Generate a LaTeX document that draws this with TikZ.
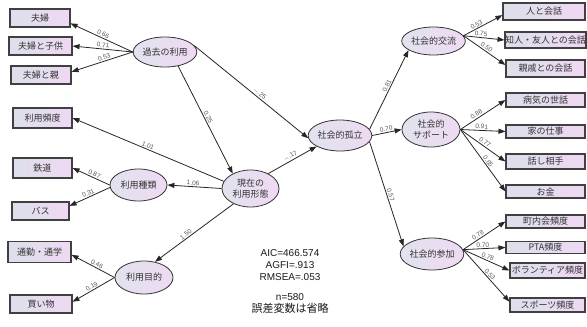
\documentclass[tikz,border=0pt]{standalone}
\usepackage{fontspec}
\setmainfont{Liberation Sans}
\newfontfamily\jp{Noto Sans CJK JP}
\usetikzlibrary{shapes.geometric,arrows.meta}
\definecolor{boxL}{HTML}{DCE0EA}
\definecolor{boxR}{HTML}{EFD8F3}
\definecolor{elL}{HTML}{E2E2EE}
\definecolor{elR}{HTML}{EEDAF2}
\begin{document}
\begin{tikzpicture}[x=1pt,y=-1pt,
  obs/.style={draw=black!75, line width=1.1pt, left color=boxL, right color=boxR,
    inner sep=0pt, font=\jp\fontsize{9}{10}\selectfont, text=black!80},
  lat/.style={ellipse, draw=black!80, line width=0.8pt, left color=elL, right color=elR,
    inner sep=0pt, align=center, font=\jp\fontsize{9}{10.5}\selectfont, text=black!80},
  arr/.style={draw=black!85, line width=0.8pt, -{Triangle[length=7pt,width=5pt]}},
  coef/.style={font=\fontsize{6.5}{7}\selectfont, text=black!65, sloped, above, inner sep=1pt}
]
\useasboundingbox[fill=white] (0,0) rectangle (587,327);

% left observed
\node[obs, minimum width=60pt, minimum height=18pt] (b1) at (40,18) {夫婦};
\node[obs, minimum width=63pt, minimum height=18pt] (b2) at (40.5,46) {夫婦と子供};
\node[obs, minimum width=60pt, minimum height=18pt] (b3) at (41,75) {夫婦と親};
\node[obs, minimum width=59pt, minimum height=20pt] (hindo) at (42.5,118) {利用頻度};
\node[obs, minimum width=59pt, minimum height=20pt] (tetsu) at (42.5,168) {鉄道};
\node[obs, minimum width=57pt, minimum height=18pt] (bus) at (40.5,211) {バス};
\node[obs, minimum width=63pt, minimum height=21pt] (tsuukin) at (39.5,252) {通勤・通学};
\node[obs, minimum width=62pt, minimum height=18pt] (kaimono) at (41,304) {買い物};

% latent
\node[lat, minimum width=56pt, minimum height=30pt] (kako) at (165,52) {過去の利用};
\node[lat, minimum width=57pt, minimum height=32pt] (shurui) at (138.5,185) {利用種類};
\node[lat, minimum width=58pt, minimum height=33pt] (mokuteki) at (144,277.5) {利用目的};
\node[lat, minimum width=57pt, minimum height=37pt] (genzai) at (250.5,188.5) {現在の\\利用形態};
\node[lat, minimum width=56pt, minimum height=31pt] (koritsu) at (340,135.5) {社会的孤立};
\node[lat, minimum width=57pt, minimum height=28pt] (koryu) at (433.5,41) {社会的交流};
\node[lat, minimum width=58pt, minimum height=35pt] (support) at (431,129.5) {社会的\\サポート};
\node[lat, minimum width=58pt, minimum height=32pt] (sanka) at (432,254) {社会的参加};

% right observed
\node[obs, minimum width=82pt, minimum height=17pt] (hito) at (544,11.5) {人と会話};
\node[obs, minimum width=79pt, minimum height=16pt] (chijin) at (545.5,40) {知人・友人との会話};
\node[obs, minimum width=79pt, minimum height=17pt] (shinseki) at (545.5,68.5) {親戚との会話};
\node[obs, minimum width=79pt, minimum height=14pt] (byoki) at (545.5,100) {病気の世話};
\node[obs, minimum width=79pt, minimum height=13pt] (ie) at (545.5,131.5) {家の仕事};
\node[obs, minimum width=79pt, minimum height=15pt] (hanashi) at (545.5,161.5) {話し相手};
\node[obs, minimum width=79pt, minimum height=13pt] (okane) at (545.5,191.5) {お金};
\node[obs, minimum width=79pt, minimum height=13pt] (chonai) at (545.5,221.5) {町内会頻度};
\node[obs, minimum width=79pt, minimum height=12pt] (pta) at (545.5,247.5) {PTA頻度};
\node[obs, minimum width=75pt, minimum height=15pt] (vol) at (547.5,270.5) {ボランティア頻度};
\node[obs, minimum width=75pt, minimum height=14pt] (sports) at (547.5,305) {スポーツ頻度};

% left arrows
\draw[arr] (kako.west) -- node[coef, pos=0.5] {0.66} (b1.-10);
\draw[arr] (kako.west) -- node[coef, pos=0.5] {0.71} (b2.east);
\draw[arr] (kako.west) -- node[coef, pos=0.45] {0.53} (b3.6);
\draw[arr] (kako.-47) -- node[coef, pos=0.49] {0.25} (genzai.140);
\draw[arr] (kako.12) -- node[coef, pos=0.55] {$-$.25} (koritsu.185);
\draw[arr] (genzai.165) -- node[coef, pos=0.51] {1.01} (hindo.east);
\draw[arr] (genzai.west) -- node[coef, pos=0.53] {1.06} (shurui.east);
\draw[arr] (genzai.222) -- node[coef, pos=0.58] {1.50} (mokuteki.55);
\draw[arr] (genzai.40) -- node[coef, pos=0.5] {$-$.17} (koritsu.205);
\draw[arr] (shurui.west) -- node[coef, pos=0.45] {0.87} (tetsu.east);
\draw[arr] (shurui.185) -- node[coef, pos=0.5] {0.31} (bus.10);
\draw[arr] (mokuteki.west) -- node[coef, pos=0.45] {0.46} (tsuukin.-5);
\draw[arr] (mokuteki.west) -- node[coef, pos=0.5] {0.19} (kaimono.4);

% right arrows
\draw[arr] (koritsu.12) -- node[coef, pos=0.53] {0.81} (koryu.200);
\draw[arr] (koritsu.east) -- node[coef, pos=0.5] {0.70} (support.west);
\draw[arr] (koritsu.-12) -- node[coef, pos=0.52] {0.57} (sanka.165);

\draw[arr] (koryu.10) -- node[coef, pos=0.38] {0.53} (hito.185);
\draw[arr] (koryu.10) -- node[coef, pos=0.42] {0.75} (chijin.west);
\draw[arr] (koryu.10) -- node[coef, pos=0.5] {0.50} (shinseki.175);

\draw[arr] (support.east) -- node[coef, pos=0.4] {0.88} (byoki.west);
\draw[arr] (support.east) -- node[coef, pos=0.47] {0.91} (ie.west);
\draw[arr] (support.east) -- node[coef, pos=0.5] {0.77} (hanashi.west);
\draw[arr] (support.east) -- node[coef, pos=0.55] {0.65} (okane.west);

\draw[arr] (sanka.8) -- node[coef, pos=0.4] {0.78} (chonai.west);
\draw[arr] (sanka.8) -- node[coef, pos=0.47] {0.70} (pta.west);
\draw[arr] (sanka.8) -- node[coef, pos=0.5] {0.78} (vol.west);
\draw[arr] (sanka.8) -- node[coef, pos=0.52] {0.53} (sports.175);

% statistics
\node[font=\fontsize{10}{12}\selectfont, align=center, text=black!90] (stats) at (290,265) {AIC=466.574\\AGFI=.913\\RMSEA=.053};
\node[font=\fontsize{10}{12}\selectfont, text=black!90] (n) at (290,297) {n=580};
\node[font=\jp\fontsize{11}{12}\selectfont, text=black!90] (note) at (290,308) {誤差変数は省略};
\end{tikzpicture}
\end{document}
